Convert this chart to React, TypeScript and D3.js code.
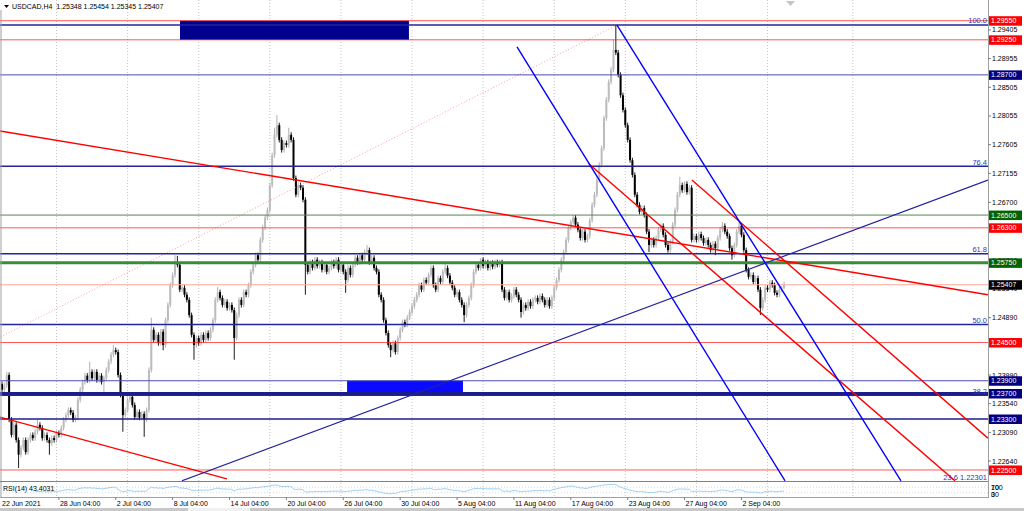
import React from "react";
import * as d3 from "d3";

// ---- data ----
const symbol = "USDCAD,H4";
const firstOpen = 1.2385;
// H4 closes, one per bar, 22 Jun 04:00 .. 6 Sep
const closes = [
  1.2376, 1.2383, 1.2399, 1.2329, 1.2305, 1.2321, 1.2297, 1.2274, 1.2285, 1.2297,
  1.2278, 1.2297, 1.2305, 1.23, 1.231, 1.2321, 1.2316, 1.23, 1.2305, 1.2297,
  1.2292, 1.23, 1.2297, 1.2308, 1.2305, 1.2316, 1.2329, 1.2336, 1.2344, 1.234,
  1.2329, 1.2332, 1.236, 1.2376, 1.2388, 1.2398, 1.2391, 1.2404, 1.2394, 1.2404,
  1.2391, 1.2398, 1.2388, 1.2394, 1.2407, 1.242, 1.2431, 1.2438, 1.2435, 1.2399,
  1.2368, 1.2336, 1.2344, 1.236, 1.2365, 1.2352, 1.2333, 1.2341, 1.2332, 1.2338,
  1.2329, 1.2344, 1.2407, 1.247, 1.2454, 1.2462, 1.2449, 1.2467, 1.2446, 1.2485,
  1.2509, 1.254, 1.2556, 1.2576, 1.2572, 1.2533, 1.2536, 1.2525, 1.2517, 1.2493,
  1.2462, 1.2446, 1.2457, 1.2449, 1.2462, 1.2454, 1.2465, 1.2457, 1.247, 1.2485,
  1.2517, 1.2529, 1.252, 1.2509, 1.2514, 1.2504, 1.2509, 1.2501, 1.2457, 1.2493,
  1.2517, 1.2509, 1.2529, 1.2525, 1.254, 1.2561, 1.2572, 1.2587, 1.258, 1.2611,
  1.263, 1.2646, 1.2658, 1.2697, 1.2744, 1.2776, 1.2791, 1.2768, 1.2752, 1.2763,
  1.276, 1.2776, 1.2768, 1.2708, 1.2682, 1.2697, 1.2693, 1.2674, 1.2572, 1.2561,
  1.2576, 1.2567, 1.258, 1.257, 1.2576, 1.2564, 1.2572, 1.2561, 1.2567, 1.2576,
  1.257, 1.258, 1.2564, 1.2572, 1.2561, 1.2548, 1.2567, 1.2556, 1.2572, 1.2583,
  1.2576, 1.2587, 1.258, 1.2592, 1.2595, 1.2576, 1.2583, 1.2567, 1.2561, 1.2525,
  1.2517, 1.2485, 1.2465, 1.2446, 1.2438, 1.2449, 1.2435, 1.2457, 1.247, 1.2482,
  1.2478, 1.2489, 1.2498, 1.2507, 1.2517, 1.2525, 1.254, 1.2533, 1.2548, 1.2544,
  1.2556, 1.2567, 1.254, 1.2533, 1.2551, 1.2545, 1.2561, 1.2567, 1.2555, 1.2544,
  1.2536, 1.2525, 1.2529, 1.2517, 1.2509, 1.2493, 1.2509, 1.252, 1.254, 1.2561,
  1.2572, 1.2567, 1.258, 1.257, 1.2576, 1.2567, 1.2575, 1.2569, 1.2576, 1.2572,
  1.2576, 1.2533, 1.252, 1.2529, 1.2517, 1.2523, 1.2533, 1.2525, 1.2517, 1.2498,
  1.2509, 1.2504, 1.2514, 1.2507, 1.2517, 1.252, 1.2514, 1.2523, 1.2517, 1.2509,
  1.2517, 1.2507, 1.252, 1.2536, 1.2548, 1.2564, 1.258, 1.2592, 1.2611, 1.263,
  1.2639, 1.2646, 1.2635, 1.2627, 1.2614, 1.2624, 1.2611, 1.2617, 1.2642, 1.2666,
  1.2682, 1.2705, 1.2729, 1.2755, 1.2802, 1.2831, 1.2859, 1.2878, 1.2909, 1.2905,
  1.287, 1.2838, 1.2815, 1.2791, 1.2768, 1.2736, 1.2713, 1.2682, 1.2666, 1.2655,
  1.2661, 1.265, 1.2624, 1.2603, 1.2611, 1.2603, 1.2614, 1.2627, 1.2633, 1.2619,
  1.2603, 1.2595, 1.2608, 1.2635, 1.2658, 1.2682, 1.2697, 1.2689, 1.2699, 1.2686,
  1.2693, 1.2611, 1.2617, 1.2611, 1.262, 1.2614, 1.2606, 1.2611, 1.2603, 1.2595,
  1.2605, 1.2598, 1.2614, 1.2627, 1.2633, 1.2624, 1.2617, 1.2598, 1.2587, 1.2603,
  1.2624, 1.2633, 1.2619, 1.2595, 1.2564, 1.2553, 1.2556, 1.2545, 1.2551, 1.2533,
  1.2504, 1.2517, 1.2536, 1.2533, 1.2544, 1.254, 1.2528, 1.2525, 1.2533, 1.25348,
  1.25407,
];
const lastBar = { open: 1.25348, high: 1.25454, low: 1.25345, close: 1.25407 };

// long wicks that stand out: [bar, price]
const wickHighs: [number, number][] = [
  [2, 1.2404], [15, 1.2329], [37, 1.242], [47, 1.2446], [63, 1.2489], [73, 1.2587],
  [74, 1.2586], [91, 1.2537], [115, 1.2787], [116, 1.2807], [121, 1.2787], [154, 1.2603],
  [187, 1.2576], [202, 1.2583], [258, 1.2925], [259, 1.2948], [286, 1.271], [304, 1.2639],
  [311, 1.2639],
];
const wickLows: [number, number][] = [
  [7, 1.2253], [20, 1.2274], [43, 1.2368], [51, 1.231], [60, 1.2302], [68, 1.2438],
  [81, 1.2423], [98, 1.2423], [128, 1.2525], [145, 1.2528], [164, 1.2427], [195, 1.2482],
  [219, 1.2489], [273, 1.2592], [301, 1.2587], [308, 1.258], [320, 1.2493],
];

const timeLabels = [
  "28 Jun 04:00", "2 Jul 04:00", "8 Jul 04:00", "14 Jul 04:00", "20 Jul 04:00",
  "26 Jul 04:00", "30 Jul 04:00", "5 Aug 04:00", "11 Aug 04:00", "17 Aug 04:00",
  "23 Aug 04:00", "27 Aug 04:00", "2 Sep 04:00",
];
const timeLabelBars = [24, 48, 72, 96, 120, 144, 168, 192, 216, 240, 264, 288, 312];
const gridBars = [23, 53, 83, 113, 143, 173, 203, 233, 263, 293, 323, 359];
// visible price scale ticks (the ones under level tags are covered)
const priceTicks = [
  1.29405, 1.28955, 1.28505, 1.28055, 1.27605, 1.27155, 1.267, 1.2579,
  1.2534, 1.2489, 1.2399, 1.2354, 1.2309, 1.2264,
];

// horizontal levels
const redLevels = [1.2955, 1.2925, 1.263, 1.245, 1.225];
const blueLevels = [1.287, 1.239, 1.237, 1.233];
const greenLevels = [1.265, 1.2575];

// fibonacci retracement
const fibLow = { bar: -240, price: 1.20083 };
const fibHigh = { bar: 259.5, price: 1.29483 };
const fibLevels = [100, 76.4, 61.8, 50, 38.2, 23.6];

// trend lines: [bar, price] -> [bar, price]
const redTrends: [number, number, number, number][] = [
  [-0.84, 1.2782, 416, 1.2525],
  [-0.84, 1.2333, 94.9, 1.2236],
  [247.7, 1.273, 402.1, 1.2233],
  [291.1, 1.2705, 416, 1.23],
];
const blueTrends: [number, number, number, number][] = [
  [217.3, 1.2914, 330.4, 1.2233],
  [259.5, 1.2948, 379.3, 1.2233],
];
const navyTrends: [number, number, number, number][] = [[75.9, 1.2233, 416, 1.2705]];

// zones: [bar0, bar1, top, bottom]
const zones: [number, number, number, number][] = [
  [75.1, 171.7, 1.2955, 1.2925],
  [145.6, 194.5, 1.239, 1.237],
];

// ---- layout ----
const W = 1024;
const H = 511;
const plotRight = 988;
const plotTop = 10;
const plotBottom = 481;
const rsiTop = 482;
const rsiBottom = 497;
const font = "'Liberation Sans', Arial, sans-serif";

const x = d3.scaleLinear().domain([0, 416]).range([2, 2 + 2.37 * 416]);
const y = d3.scaleLinear().domain([1.22327, 1.29718]).range([plotBottom, plotTop]);
const yRsi = d3.scaleLinear().domain([0, 100]).range([rsiBottom, rsiTop + 1]);

const thick: Record<string, number> = { "1.237": 3, "1.2575": 3, "1.233": 1.6 };

function buildBars() {
  const tail = 0.0004;
  return closes.map((c, i) => {
    const o = i === 0 ? firstOpen : closes[i - 1];
    let hi = Math.max(o, c) + tail;
    let lo = Math.min(o, c) - tail;
    const wh = wickHighs.find((w) => w[0] === i);
    const wl = wickLows.find((w) => w[0] === i);
    if (wh) hi = wh[1];
    if (wl) lo = wl[1];
    if (i === closes.length - 1) {
      hi = lastBar.high;
      lo = lastBar.low;
    }
    return { i, o, c, hi, lo };
  });
}

function rsi(values: number[], n: number) {
  const out: (number | null)[] = [];
  let ag = 0;
  let al = 0;
  for (let i = 1; i < values.length; i++) {
    const d = values[i] - values[i - 1];
    const g = Math.max(d, 0);
    const l = Math.max(-d, 0);
    if (i <= n) {
      ag += g / n;
      al += l / n;
      out[i] = i === n ? 100 - 100 / (1 + ag / (al || 1e-9)) : null;
    } else {
      ag = (ag * (n - 1) + g) / n;
      al = (al * (n - 1) + l) / n;
      out[i] = 100 - 100 / (1 + ag / (al || 1e-9));
    }
  }
  return out;
}

const App = () => {
  const bars = buildBars();
  const rsiVals = rsi(closes, 14);
  const rsiLine = d3
    .line<[number, number]>()
    .x((d) => x(d[0]))
    .y((d) => yRsi(d[1]));
  const rsiPts = rsiVals
    .map((v, i) => [i, v] as [number, number | null])
    .filter((d) => d[1] !== null) as [number, number][];

  const fibPrice = (lvl: number) => fibLow.price + ((fibHigh.price - fibLow.price) * lvl) / 100;
  const current = lastBar.close;

  const axisLabels = [
    ...redLevels.map((p) => ({ p, bg: "#ff0000" })),
    ...blueLevels.map((p) => ({ p, bg: "#000080" })),
    ...greenLevels.map((p) => ({ p, bg: "#006400" })),
    { p: current, bg: "#000000" },
  ];

  return (
    <div style={{ position: "absolute", left: 0, top: 0 }}>
      <svg width={W} height={H} style={{ display: "block", background: "#fff" }} fontFamily={font}>
        <defs>
          <clipPath id="plot">
            <rect x={0} y={plotTop} width={plotRight} height={plotBottom - plotTop} />
          </clipPath>
        </defs>

        {/* grid */}
        {gridBars.map((b) => (
          <line key={b} x1={x(b)} x2={x(b)} y1={0} y2={rsiBottom} stroke="#b4b4b4" strokeWidth={0.8} strokeDasharray="1,2" />
        ))}

        <g clipPath="url(#plot)">
          {/* zones */}
          {zones.map((z, k) => (
            <rect
              key={k}
              x={x(z[0])}
              width={x(z[1]) - x(z[0])}
              y={y(z[2])}
              height={y(z[3]) - y(z[2])}
              fill={k === 0 ? "#00008f" : "#0a0aff"}
            />
          ))}

          {/* candles */}
          {bars.map((b) => {
            const bull = b.c >= b.o;
            const top = y(Math.max(b.o, b.c));
            const h = Math.max(0.9, Math.abs(y(b.o) - y(b.c)));
            return (
              <g key={b.i}>
                <line x1={x(b.i)} x2={x(b.i)} y1={y(b.hi)} y2={y(b.lo)} stroke={bull ? "#a8a8a8" : "#000"} strokeWidth={0.9} />
                <rect x={x(b.i) - 1} width={2} y={top} height={h} fill={bull ? "#bcbcbc" : "#000"} />
              </g>
            );
          })}

          {/* fibonacci */}
          <line
            x1={x(fibLow.bar)}
            y1={y(fibLow.price)}
            x2={x(fibHigh.bar)}
            y2={y(fibHigh.price)}
            stroke="#ff8080"
            strokeWidth={0.8}
            strokeDasharray="1,2"
          />
          {fibLevels.map((l) => (
            <line key={l} x1={0} x2={plotRight} y1={y(fibPrice(l))} y2={y(fibPrice(l))} stroke="#24249c" strokeWidth={1.5} />
          ))}

          {/* horizontal levels */}
          {redLevels.map((p) => (
            <line key={p} x1={0} x2={plotRight} y1={y(p)} y2={y(p)} stroke="#ff2020" strokeOpacity={0.75} strokeWidth={1} />
          ))}
          {blueLevels.map((p) => (
            <line
              key={p}
              x1={0}
              x2={plotRight}
              y1={y(p)}
              y2={y(p)}
              stroke={thick[String(p)] ? "#1c1c8c" : "#4c4cb8"}
              strokeWidth={thick[String(p)] || 1}
            />
          ))}
          {greenLevels.map((p) => (
            <line
              key={p}
              x1={0}
              x2={plotRight}
              y1={y(p)}
              y2={y(p)}
              stroke={thick[String(p)] ? "#3a8c3a" : "#4f874f"}
              strokeWidth={thick[String(p)] || 1}
            />
          ))}
          <line x1={0} x2={plotRight} y1={y(current)} y2={y(current)} stroke="#ffaa9a" strokeWidth={1} />

          {/* trend lines */}
          {redTrends.map((t, k) => (
            <line key={"r" + k} x1={x(t[0])} y1={y(t[1])} x2={x(t[2])} y2={y(t[3])} stroke="#ff0000" strokeWidth={1.4} />
          ))}
          {blueTrends.map((t, k) => (
            <line key={"b" + k} x1={x(t[0])} y1={y(t[1])} x2={x(t[2])} y2={y(t[3])} stroke="#0000ff" strokeWidth={1.4} />
          ))}
          {navyTrends.map((t, k) => (
            <line key={"n" + k} x1={x(t[0])} y1={y(t[1])} x2={x(t[2])} y2={y(t[3])} stroke="#2424a0" strokeWidth={1.2} />
          ))}
        </g>

        {/* fib labels */}
        {fibLevels.map((l, k) => (
          <text key={l} x={plotRight - 1} y={Math.min(y(fibPrice(l)) - 1.5, plotBottom - 1)} textAnchor="end" fontSize={7.5} fill="#3535b5">
            {k === fibLevels.length - 1 ? `${l.toFixed(1)} ${fibPrice(l).toFixed(5)}` : l.toFixed(1)}
          </text>
        ))}

        {/* frame */}
        <line x1={1} x2={1} y1={plotTop} y2={rsiBottom} stroke="#a0a0a0" />
        <line x1={plotRight + 0.5} x2={plotRight + 0.5} y1={0} y2={rsiBottom + 1} stroke="#a0a0a0" />
        <line x1={0} x2={plotRight} y1={plotBottom + 0.5} y2={plotBottom + 0.5} stroke="#808080" />
        <line x1={0} x2={plotRight} y1={rsiBottom + 0.5} y2={rsiBottom + 0.5} stroke="#a0a0a0" />

        {/* price axis */}
        {priceTicks.map((p) => (
          <g key={p}>
            <line x1={plotRight} x2={plotRight + 3} y1={y(p)} y2={y(p)} stroke="#808080" />
            <text x={plotRight + 4} y={y(p) + 2.5} fontSize={7} fill="#000">
              {p.toFixed(5)}
            </text>
          </g>
        ))}
        {axisLabels.map((d) => (
          <g key={d.p}>
            <rect x={plotRight + 1} y={y(d.p) - 4.5} width={33} height={9.5} fill={d.bg} />
            <text x={plotRight + 3} y={y(d.p) + 2.6} fontSize={7} fill="#fff">
              {d.p.toFixed(5)}
            </text>
          </g>
        ))}

        {/* RSI window */}
        {[70, 30].map((v) => (
          <line key={v} x1={0} x2={plotRight} y1={yRsi(v)} y2={yRsi(v)} stroke="#c0c0c0" strokeWidth={0.6} strokeDasharray="1,2" />
        ))}
        <path d={rsiLine(rsiPts) || ""} fill="none" stroke="#88c4f2" strokeWidth={0.8} />
        <text x={3} y={491} fontSize={7} fill="#000">
          RSI(14) 43.4031
        </text>
        <text x={plotRight + 3} y={489.5} fontSize={7}>100</text>
        <text x={plotRight + 3} y={489.5} fontSize={7}>70</text>
        <text x={plotRight + 3} y={496.5} fontSize={7}>30</text>
        <text x={plotRight + 3} y={496.5} fontSize={7}>0</text>

        {/* time axis */}
        <text x={2} y={506} fontSize={7}>22 Jun 2021</text>
        {timeLabelBars.map((b, k) => (
          <g key={b}>
            <line x1={x(b)} x2={x(b)} y1={rsiBottom} y2={rsiBottom + 3} stroke="#808080" />
            <text x={x(b) + 1} y={506} fontSize={7}>
              {timeLabels[k]}
            </text>
          </g>
        ))}

        {/* header */}
        <path d="M4,5 L9,5 L6.5,8 Z" fill="#000" />
        <text x={12} y={9} fontSize={7} style={{ whiteSpace: "pre" }}>
          {`${symbol}  ${lastBar.open.toFixed(5)} ${lastBar.high.toFixed(5)} ${lastBar.low.toFixed(5)} ${lastBar.close.toFixed(5)}`}
        </text>
        <path d="M786,1 L795,1 L790.5,6 Z" fill="#c4c4c4" />

        {/* scroll bar strip */}
        <rect x={0} y={508} width={W} height={3} fill="#c8c8c8" />
        <rect x={188} y={508} width={62} height={3} fill="#f0f0f0" />
      </svg>
    </div>
  );
};

export default App;
